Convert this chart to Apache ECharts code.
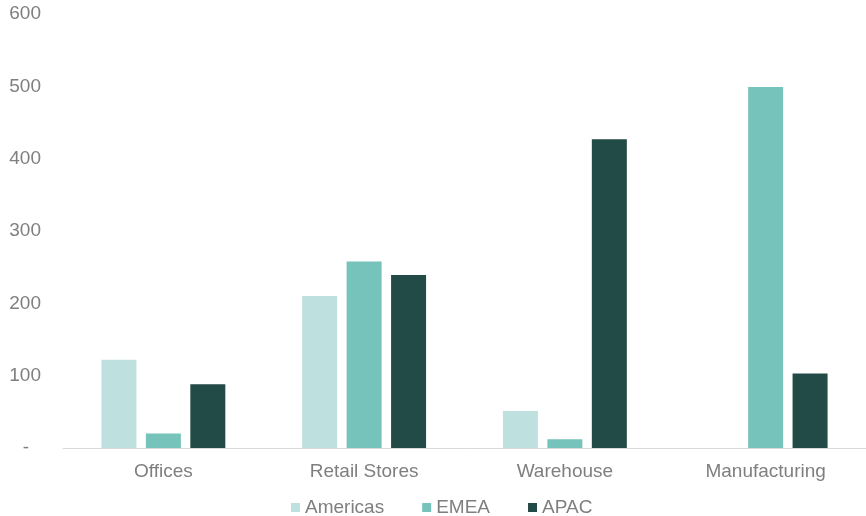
<!DOCTYPE html>
<html>
<head>
<meta charset="utf-8">
<script src="https://cdn.jsdelivr.net/npm/echarts@6/dist/echarts.min.js"></script>
<style>
  html, body { margin: 0; padding: 0; background: #ffffff; }
  #chart { width: 866px; height: 516px; }
</style>
</head>
<body>
<div id="chart"></div>
<script>
// Facility categories along the x axis
const categories = ['Offices', 'Retail Stores', 'Warehouse', 'Manufacturing'];

// Values per region
const americas = [122, 210, 51, 0];
const emea = [20, 258, 12, 499];
const apac = [88, 239, 427, 103];

// Value axis ticks
const yTicks = [0, 100, 200, 300, 400, 500, 600];

const textColor = '#7f7f7f';
const fontFamily = '"Liberation Sans", Arial, sans-serif';
const fontSize = 19;

const chart = echarts.init(document.getElementById('chart'), null, { renderer: 'canvas' });

function barSeries(name, data, color) {
  return {
    name: name,
    type: 'bar',
    data: data,
    barWidth: 35,
    barGap: '27%',
    itemStyle: { color: color },
    emphasis: { disabled: true }
  };
}

chart.setOption({
  animation: false,
  backgroundColor: '#ffffff',
  textStyle: { fontFamily: fontFamily },
  grid: { left: 63, right: 0, top: 14, bottom: 68, containLabel: false },
  legend: {
    top: 493,
    left: 286,
    itemWidth: 9,
    itemHeight: 9,
    itemGap: 38,
    icon: 'rect',
    textStyle: { color: textColor, fontSize: fontSize, fontFamily: fontFamily },
    data: ['Americas', 'EMEA', 'APAC']
  },
  xAxis: {
    type: 'category',
    data: categories,
    axisLine: { show: true, lineStyle: { color: '#d9d9d9', width: 1 } },
    axisTick: { show: false },
    axisLabel: { color: textColor, fontSize: fontSize, margin: 14, fontFamily: fontFamily }
  },
  yAxis: {
    type: 'value',
    min: yTicks[0],
    max: yTicks[yTicks.length - 1],
    interval: yTicks[1] - yTicks[0],
    splitLine: { show: false },
    axisLine: { show: false },
    axisTick: { show: false },
    axisLabel: {
      color: textColor,
      fontSize: fontSize,
      margin: 22,
      fontFamily: fontFamily,
      formatter: function (v) { return v === 0 ? '{dash|-}' : String(v); },
      rich: {
        dash: { color: textColor, fontSize: fontSize, fontFamily: fontFamily, padding: [0, 12, 0, 0] }
      }
    }
  },
  series: [
    barSeries('Americas', americas, '#bee0de'),
    barSeries('EMEA', emea, '#76c3bc'),
    barSeries('APAC', apac, '#224a47')
  ]
});
</script>
</body>
</html>
